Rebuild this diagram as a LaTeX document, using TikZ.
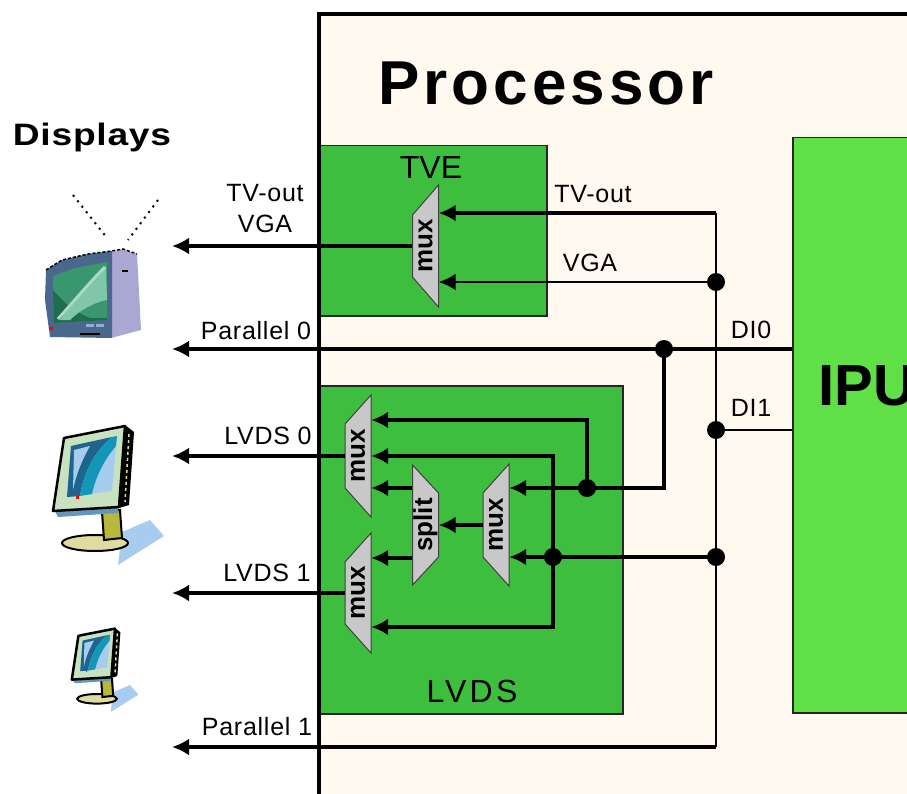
\documentclass[tikz,border=0pt]{standalone}
\usepackage{fontspec}
\setmainfont{Liberation Sans}
\usepackage{graphicx}
\usetikzlibrary{arrows.meta,calc}

\definecolor{procbg}{RGB}{255,249,240}
\definecolor{blockgreen}{RGB}{62,190,62}
\definecolor{ipugreen}{RGB}{95,224,70}
\definecolor{muxgrey}{RGB}{200,200,200}
\definecolor{tvframe}{RGB}{74,104,140}
\definecolor{tvside}{RGB}{170,168,210}
\definecolor{tvscreen}{RGB}{58,150,108}
\definecolor{tvdark}{RGB}{30,110,78}
\definecolor{tvglow}{RGB}{128,198,168}
\definecolor{tvstreak}{RGB}{172,216,200}
\definecolor{tvbutton}{RGB}{150,170,220}
\definecolor{monframe}{RGB}{200,226,192}
\definecolor{monscreen}{RGB}{166,204,240}
\definecolor{monteal}{RGB}{20,150,185}
\definecolor{mondeep}{RGB}{30,100,140}
\definecolor{monneck}{RGB}{184,184,60}
\definecolor{monbase}{RGB}{224,220,160}
\definecolor{monshadow}{RGB}{168,204,240}
\definecolor{monstrip}{RGB}{100,150,190}

% trapezoid block with rotated caption:
% #1 name, #2 x, #3 y, #4 half wide side, #5 half narrow side,
% #6 +1 = wide side on the right, -1 = wide side on the left, #7 caption
\newcommand{\muxbox}[7]{%
  \draw[muxdraw] ({#2+(#6)*13},{#3-#4}) -- ({#2+(#6)*13},{#3+#4})
     -- ({#2-(#6)*13},{#3+#5}) -- ({#2-(#6)*13},{#3-#5}) -- cycle;
  \node[muxtext] (#1) at (#2,#3) {\rotatebox{90}{#7}};}

\tikzset{
  monitor/.pic={
    \fill[monshadow] (22,42) -- (50,30) -- (64,46) -- (18,75) -- cycle;
    \draw[line width=2pt, fill=monbase] (-5,53) ellipse (33pt and 8pt);
    \draw[line width=2pt, fill=monneck] (2,22) -- (20,20) -- (22,48) -- (4,50) -- cycle;
    \fill[monstrip] (-45,21) -- (18,16) -- (18,23) -- (-42,27) -- cycle;
    \fill[black] (25,-65) -- (34,-58) -- (29,15) -- (19,18) -- cycle;
    \draw[line width=1.5pt, monbase, dash pattern=on 3pt off 3pt] (29,-56) -- (25,12);
    \draw[line width=2.5pt, fill=monframe, line join=round]
      (-36,-52) -- (25,-64) -- (19,17) -- (-47,21) -- cycle;
    \fill[monscreen] (-29,-44) -- (17,-54) -- (12,1) -- (-33,7) -- cycle;
    \fill[mondeep] (-29,-44) -- (12,-53) .. controls (-4,-40) and (-16,-20) .. (-20,6) -- (-33,7) -- cycle;
    \fill[monteal] (12,-53) -- (17,-54) -- (16,-44) .. controls (4,-30) and (-4,-14) .. (-8,4)
      -- (-20,6) .. controls (-16,-20) and (-4,-40) .. (12,-53) -- cycle;
    \fill[monscreen] (-26,-40) -- (-10,-44) .. controls (-18,-30) and (-24,-15) .. (-27,0) -- cycle;
    \fill[red] (-24,6) rectangle (-21,9);
  }
}

\begin{document}
\begin{tikzpicture}[x=1pt,y=-1pt,
  bus/.style={line width=4.5pt},
  wire/.style={line width=2.5pt},
  midwire/.style={line width=3.5pt},
  tip/.style={-{Latex[length=17pt,width=17pt]}},
  junction/.style={circle,fill=black,inner sep=0pt,minimum size=18pt},
  block/.style={fill=blockgreen,draw=black!85,line width=1.5pt,inner sep=0pt},
  muxdraw/.style={fill=muxgrey,draw=black!75,line width=1pt},
  muxtext/.style={font=\bfseries\fontsize{26}{26}\selectfont,inner sep=0pt,
    minimum width=26pt,minimum height=20pt},
  lbl/.style={font=\fontsize{25}{31}\selectfont\addfontfeatures{LetterSpace=3},
    inner sep=0pt,align=center},
]
\useasboundingbox (0,0) rectangle (907,794);
\clip (0,0) rectangle (907,794);
\fill[white] (0,0) rectangle (907,794);

% processor and its blocks
\fill[procbg] (319,14) rectangle (960,850);
\node[block, anchor=north west, minimum width=227pt, minimum height=170pt] (tve) at (319,145) {};
\node[block, anchor=north west, minimum width=303pt, minimum height=328pt] (lvds) at (319,385) {};
\node[block, fill=ipugreen, anchor=north west, minimum width=170pt, minimum height=575pt] (ipu) at (792,137) {};
\draw[line width=4pt] (960,14) -- (319,14) -- (319,850);

% multiplexers and splitter
\muxbox{tvemux}{425.5}{246}{61}{31}{1}{mux}
\muxbox{muxa}{358}{456}{61}{32}{1}{mux}
\muxbox{muxb}{358}{593}{60}{31}{1}{mux}
\muxbox{muxc}{496}{525}{61}{32}{1}{mux}
\muxbox{splitter}{425.5}{525}{60}{32}{-1}{split}

% junctions and wire ends
\coordinate (busTop) at (716,213);
\coordinate (busBot) at (716,747);
\node[junction] (jVGA) at (716,282) {};
\node[junction] (jDI1) at (716,430) {};
\node[junction] (jLow) at (716,557) {};
\node[junction] (jDI0) at (664,349) {};
\node[junction] (jA) at (587,488) {};
\node[junction] (jC) at (553,557) {};
\coordinate (dTV) at (172,246);
\coordinate (dP0) at (172,349);
\coordinate (dL0) at (172,456);
\coordinate (dL1) at (172,593);
\coordinate (dP1) at (172,747);

% wiring
\draw[wire] (busTop) -- (busBot);
\draw[midwire,tip] (busTop) -- (busTop -| tvemux.east);
\draw[wire,tip] (jVGA.center) -- (jVGA.center -| tvemux.east);
\draw[bus,tip] (tvemux.west) -- (dTV);
\draw[bus,tip] (jDI0.center -| ipu.west) -- (dP0);
\draw[wire] (jDI1.center -| ipu.west) -- (jDI1.center);
\draw[bus,tip] (jDI0.center) |- (jA.center) -- (jA.center -| muxc.east);
\draw[bus,tip] (jA.center) |- ([yshift=36pt]muxa.east);
\draw[bus,tip] (jLow.center) -- (jLow.center -| muxc.east);
\draw[bus,tip] (jC.center) |- (muxa.east);
\draw[bus,tip] (jC.center) |- ([yshift=-34pt]muxb.east);
\draw[bus,tip] (muxc.west) -- (splitter.east);
\draw[bus,tip] ([yshift=37pt]splitter.west) -- ([yshift=37pt]splitter.west -| muxa.east);
\draw[bus,tip] ([yshift=-33pt]splitter.west) -- ([yshift=-33pt]splitter.west -| muxb.east);
\draw[bus,tip] (muxa.west) -- (dL0);
\draw[midwire,tip] (muxb.west) -- (dL1);
\draw[midwire,tip] (busBot) -- (dP1);

% captions
\node[font=\bfseries\fontsize{62}{62}\selectfont\addfontfeatures{LetterSpace=6.5}, inner sep=0pt] (title) at (546,83) {Processor};
\node[font=\bfseries\fontsize{31}{31}\selectfont\addfontfeatures{LetterSpace=2}, inner sep=0pt] (displays) at (92,137) {\scalebox{1.2}[1]{Displays}};
\node[font=\fontsize{32}{32}\selectfont, inner sep=0pt] (tvename) at (431,167) {TVE};
\node[font=\fontsize{32}{32}\selectfont\addfontfeatures{LetterSpace=10}, inner sep=0pt] (lvdsname) at (472,691) {LVDS};
\node[font=\bfseries\fontsize{58}{58}\selectfont, inner sep=0pt, anchor=west] (ipuname) at (818,386) {IPU};
\node[lbl] (lblTV) at (265,209) {TV-out\\VGA};
\node[lbl] (lblP0) at (256,331) {Parallel 0};
\node[lbl] (lblL0) at (268,436) {LVDS 0};
\node[lbl] (lblL1) at (267,573) {LVDS 1};
\node[lbl] (lblP1) at (257,727) {Parallel 1};
\node[lbl] (lblTVin) at (593,194) {TV-out};
\node[lbl] (lblVGA) at (590,263) {VGA};
\node[lbl] (lblDI0) at (751,330) {DI0};
\node[lbl] (lblDI1) at (751,408) {DI1};

% television
\draw[dash pattern=on 2pt off 5pt, line width=2pt] (73,195) -- (107,238);
\draw[dash pattern=on 2pt off 5pt, line width=2pt] (158,200) -- (128,240);
\fill[tvside] (111,252) -- (123,249) -- (137,254) -- (141,330) -- (126,334) -- (111,338) -- cycle;
\fill[tvframe] (46,270) -- (62,260) -- (88,254) -- (112,251) -- (112,338) -- (50,337) -- (45,300) -- cycle;
\draw[dash pattern=on 3pt off 2pt, line width=1.5pt] (46,270) -- (62,260) -- (88,254) -- (112,251) -- (123,249) -- (137,254);
\fill[tvscreen] (53,276) -- (75,268) -- (107,262) -- (107,320) -- (54,323) -- cycle;
\fill[tvdark] (53,290) .. controls (62,300) and (70,310) .. (90,318) -- (107,318) -- (107,320) -- (54,323) -- cycle;
\fill[tvglow] (60,320) .. controls (75,300) and (90,282) .. (106,266) -- (107,300)
  .. controls (95,302) and (80,310) .. (70,320) -- cycle;
\draw[tvstreak, line width=3pt] (58,319) .. controls (75,300) and (90,282) .. (105,267);
\fill[tvbutton] (86,324) rectangle (94,327);
\fill[tvbutton] (96,324) rectangle (104,327);
\fill[red] (49,327) rectangle (53,330);
\draw[line width=2pt] (122,271) -- (128,271);
\draw[line width=2pt] (80,334) -- (100,334);

% flat panel monitors
\pic at (100,490) {monitor};
\pic[scale=0.6] at (100,667) {monitor};
\end{tikzpicture}
\end{document}
